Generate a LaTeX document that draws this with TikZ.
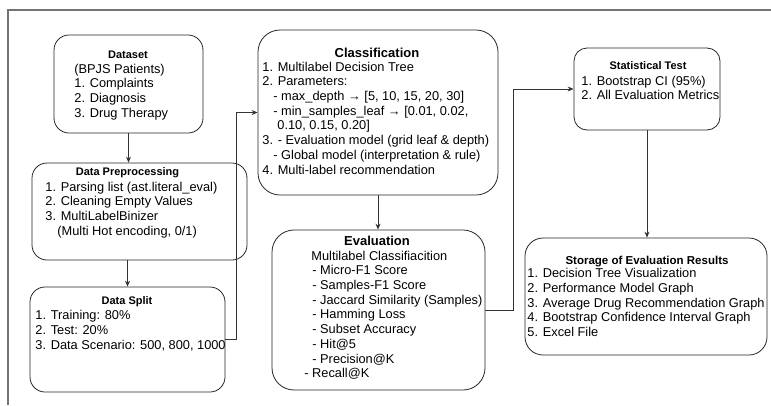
\documentclass[tikz,border=0pt]{standalone}
\usepackage{fontspec}
\setmainfont{Liberation Sans}
\usetikzlibrary{arrows.meta,positioning}

\newcommand{\bodyfont}{\fontsize{12.8}{14.7}\selectfont}
\newcommand{\smalltitle}{\fontsize{11}{13}\selectfont\bfseries}
\newcommand{\bigtitle}{\fontsize{13}{15}\selectfont\bfseries}

\begin{document}
\begin{tikzpicture}[x=1pt,y=-1pt,>={Stealth[length=6pt,width=5pt]},
                    line width=0.8pt]
  \tikzstyle{box}=[draw=black!85,rectangle,inner sep=0pt]
  \tikzstyle{ttl}=[inner sep=0pt,anchor=center,font=\smalltitle]
  \tikzstyle{body}=[inner sep=0pt,anchor=north west,align=left,font=\bodyfont]
  \tikzstyle{conn}=[->,draw=black!80]

  \useasboundingbox (0,0) rectangle (771,405);
  \draw[black!55,line width=1.2pt] (8,405) -- (8,10) -- (771,10);

  % boxes
  \node[box,minimum width=149pt,minimum height=98pt,rounded corners=15pt]  (ds)    at (128.5,84)   {};
  \node[box,minimum width=215pt,minimum height=97pt,rounded corners=15pt]  (pre)   at (139.5,211.5) {};
  \node[box,minimum width=195pt,minimum height=105pt,rounded corners=15pt] (split) at (127.5,339.5) {};
  \node[box,minimum width=240pt,minimum height=165pt,rounded corners=22pt] (cls)   at (378,112.5)  {};
  \node[box,minimum width=213pt,minimum height=160pt,rounded corners=22pt] (ev)    at (378.5,310)  {};
  \node[box,minimum width=146pt,minimum height=82pt,rounded corners=13pt]  (st)    at (647,89)     {};
  \node[box,minimum width=242pt,minimum height=117pt,rounded corners=18pt] (sto)   at (646,296.5)  {};

  % titles
  \node[ttl] (ds-t)    at (128,55)   {Dataset};
  \node[ttl] (pre-t)   at (127.5,173) {Data Preprocessing};
  \node[ttl] (split-t) at (127,302)  {Data Split};
  \node[ttl,font=\bigtitle] (cls-t) at (377,53)  {Classification};
  \node[ttl,font=\bigtitle] (ev-t)  at (377,241) {Evaluation};
  \node[ttl] (st-t)    at (648,66)   {Statistical Test};
  \node[ttl,font=\fontsize{11.5}{13}\selectfont\bfseries] (sto-t) at (647,262) {Storage of Evaluation Results};

  % texts
  \node[body] (ds-b) at (74,63.5)
    {(BPJS Patients)\\1. Complaints\\2. Diagnosis\\3. Drug Therapy};
  \node[body] (pre-b) at (45,181.5)
    {1. Parsing list (ast.literal\_eval)\\2. Cleaning Empty Values\\3. MultiLabelBinizer\\
     \hspace*{12pt}(Multi Hot encoding, 0/1)};
  \node[body] (split-b) at (35,310)
    {1. Training: 80\%\\2. Test: 20\%\\3. Data Scenario: 500, 800, 1000};
  \node[body] (cls-b) at (262,61.5)
    {1. Multilabel Decision Tree\\2. Parameters:\\
     \hspace*{11pt}- max\_depth → [5, 10, 15, 20, 30]\\
     \hspace*{11pt}- min\_samples\_leaf → [0.01, 0.02,\\
     \hspace*{15pt}0.10, 0.15, 0.20]\\
     3. - Evaluation model (grid leaf \& depth)\\
     \hspace*{11pt}- Global model (interpretation \& rule)\\
     4. Multi-label recommendation};
  \node[body] (ev-b) at (304,250.5)
    {\hspace*{7pt}Multilabel Classifiacition\\
     \hspace*{8pt}- Micro-F1 Score\\
     \hspace*{8pt}- Samples-F1 Score\\
     \hspace*{8pt}- Jaccard Similarity (Samples)\\
     \hspace*{8pt}- Hamming Loss\\
     \hspace*{8pt}- Subset Accuracy\\
     \hspace*{8pt}- Hit@5\\
     \hspace*{8pt}- Precision@K\\
     - Recall@K};
  \node[body] (st-b) at (581,75.5)
    {1. Bootstrap CI (95\%)\\2. All Evaluation Metrics};
  \node[body] (sto-b) at (527,268)
    {1. Decision Tree Visualization\\2. Performance Model Graph\\
     3. Average Drug Recommendation Graph\\4. Bootstrap Confidence Interval Graph\\
     5. Excel File};

  % connectors
  \draw[conn] (ds.south) -- (ds.south |- pre.north);
  \draw[conn] (pre.south -| split.north) -- (split.north);
  \draw[conn] (split.east) -- ++(11,0) |- (cls.west);
  \draw[conn] (cls.south) -- (cls.south |- ev.north);
  \draw[conn] (ev.east) -- ++(28,0) |- (st.west);
  \draw[conn] (st.south) -- (st.south |- sto.north);
\end{tikzpicture}
\end{document}
